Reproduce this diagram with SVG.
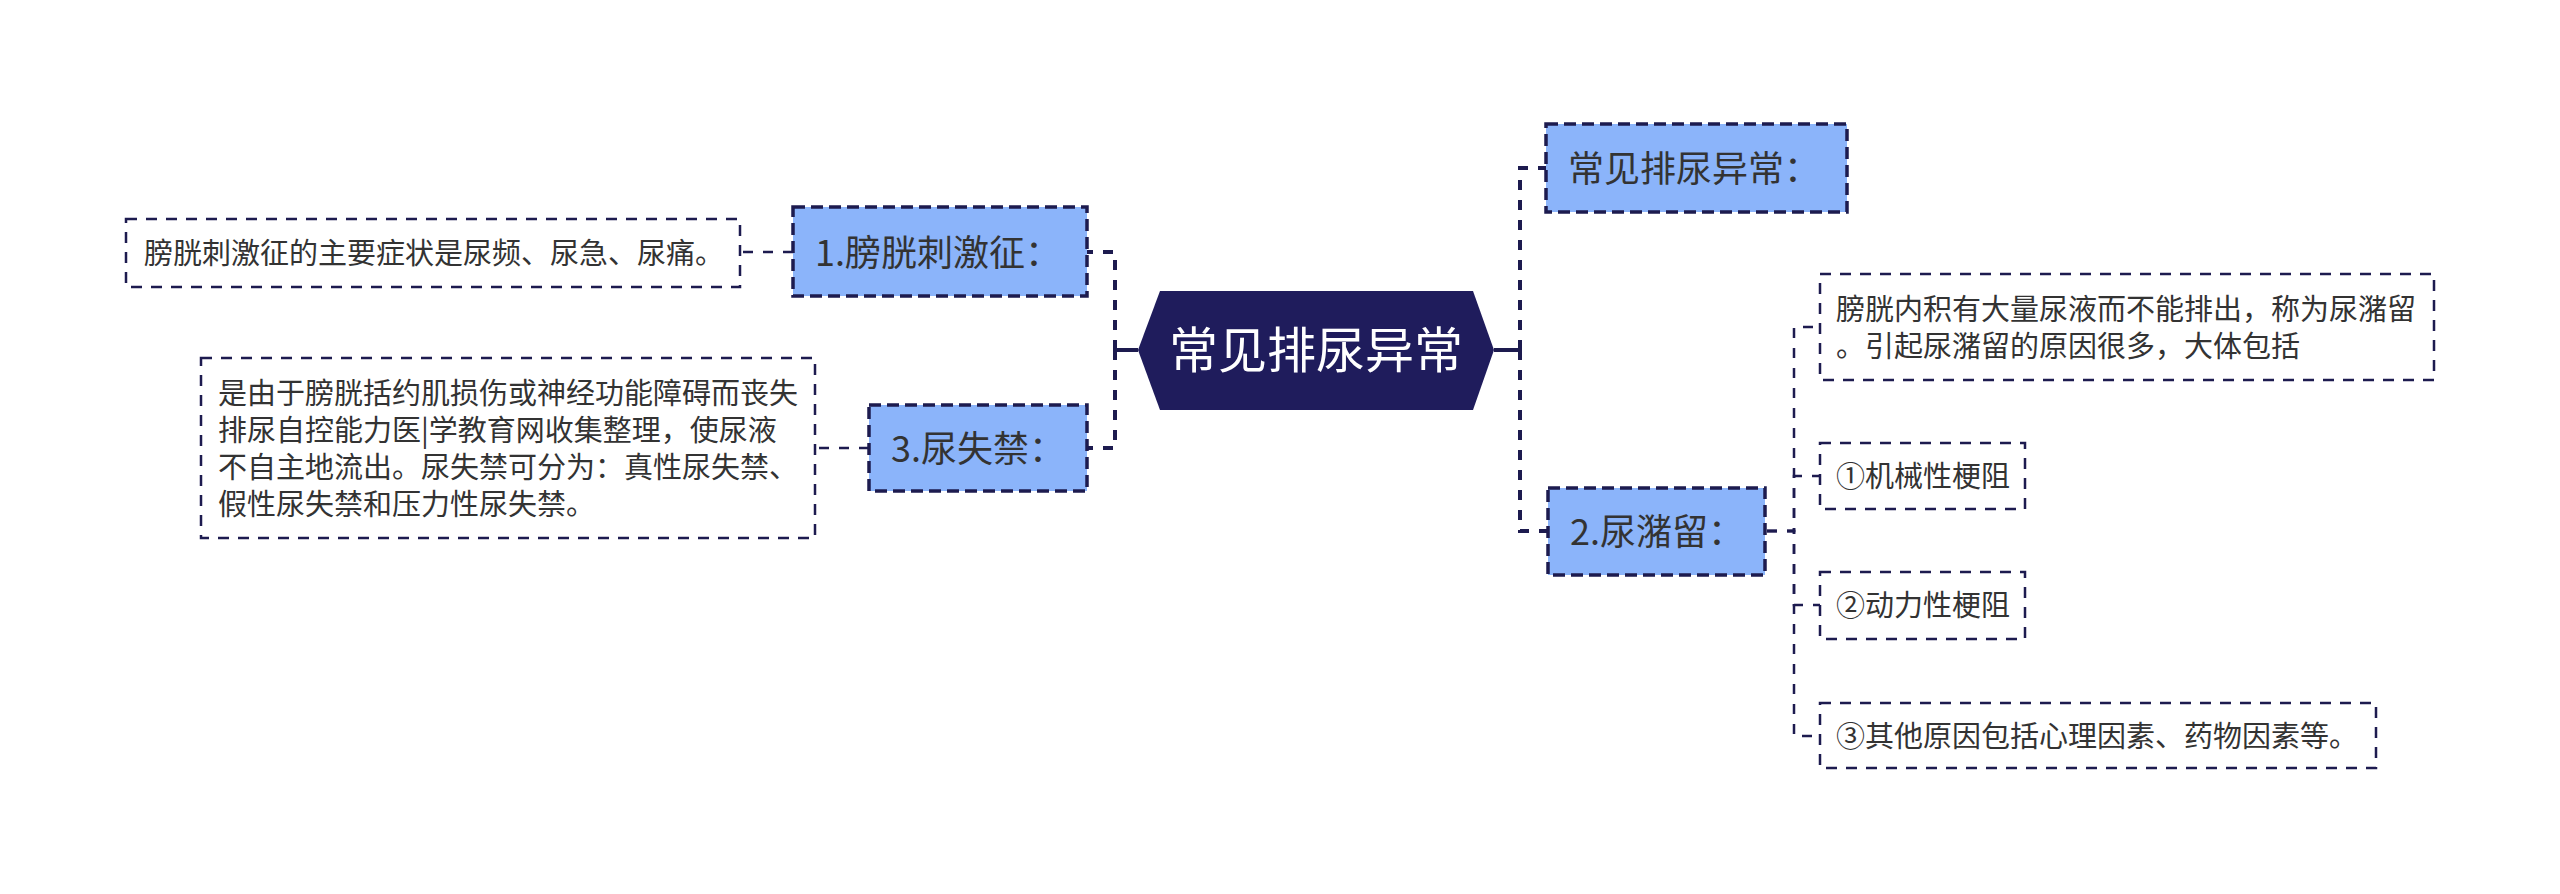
<svg xmlns="http://www.w3.org/2000/svg" width="2560" height="894" viewBox="0 0 2560 894">
<style>
  text { font-family: "Noto Sans CJK SC", "Noto Sans", "Liberation Sans", sans-serif; fill: #333333; }
  .l1 { fill: #8bb4fa; stroke: #1d1b4f; stroke-width: 3.5; stroke-dasharray: 12 6; }
  .leaf { fill: #ffffff; stroke: #1d1b4f; stroke-width: 2.5; stroke-dasharray: 11 9; }
  .t1 { font-size: 36px; }
  .t2 { font-size: 29px; }
  .conn { fill: none; stroke: #1d1b4f; stroke-width: 4; stroke-dasharray: 10 10; }
  .conn2 { fill: none; stroke: #1d1b4f; stroke-width: 2.5; stroke-dasharray: 10 10; }
  .stub { fill: none; stroke: #1d1b4f; stroke-width: 4; }
</style>
<rect width="2560" height="894" fill="#ffffff"/>
<g id="connectors">
  <path class="stub" d="M1494 350 H1520 M1138 350 H1115"/>
  <path class="conn" d="M1520 350 V168 H1546"/>
  <path class="conn" d="M1520 350 V531 H1548"/>
  <path class="conn" d="M1115 350 V252 H1087"/>
  <path class="conn" d="M1115 350 V448 H1087"/>
  <path class="conn2" d="M793 252 H740"/>
  <path class="conn2" d="M869 448 H815"/>
  <path class="conn2" d="M1767 531 H1794 V327 H1820"/>
  <path class="conn2" d="M1767 531 H1794 V476 H1820"/>
  <path class="conn2" d="M1767 531 H1794 V605 H1820"/>
  <path class="conn2" d="M1767 531 H1794 V736 H1820"/>
</g>
<g id="root">
  <polygon points="1138,350 1160,291 1473,291 1494,350 1473,410 1160,410" fill="#1f1c5c"/>
  <text x="1316" y="368" text-anchor="middle" style="font-size:49px;fill:#ffffff">常见排尿异常</text>
</g>
<g id="n-right1">
  <rect class="l1" x="1546" y="124" width="301" height="88"/>
  <text class="t1" x="1568" y="182">常见排尿异常：</text>
</g>
<g id="n-right2">
  <rect class="l1" x="1548" y="488" width="217" height="87"/>
  <text class="t1" x="1570" y="545">2.尿潴留：</text>
</g>
<g id="n-right2-c1">
  <rect class="leaf" x="1820" y="274" width="614" height="106"/>
  <text class="t2" x="1836" y="320">膀胱内积有大量尿液而不能排出，称为尿潴留</text>
  <text class="t2" x="1836" y="357">。引起尿潴留的原因很多，大体包括</text>
</g>
<g id="n-right2-c2">
  <rect class="leaf" x="1820" y="443" width="205" height="66"/>
  <text class="t2" x="1836" y="487">①机械性梗阻</text>
</g>
<g id="n-right2-c3">
  <rect class="leaf" x="1820" y="572" width="205" height="67"/>
  <text class="t2" x="1836" y="616">②动力性梗阻</text>
</g>
<g id="n-right2-c4">
  <rect class="leaf" x="1820" y="703" width="556" height="65"/>
  <text class="t2" x="1836" y="747">③其他原因包括心理因素、药物因素等。</text>
</g>
<g id="n-left1">
  <rect class="l1" x="793" y="207" width="294" height="89"/>
  <text class="t1" x="815" y="266">1.膀胱刺激征：</text>
</g>
<g id="n-left1-c1">
  <rect class="leaf" x="126" y="219" width="614" height="68"/>
  <text class="t2" x="144" y="264">膀胱刺激征的主要症状是尿频、尿急、尿痛。</text>
</g>
<g id="n-left3">
  <rect class="l1" x="869" y="405" width="218" height="86"/>
  <text class="t1" x="891" y="462">3.尿失禁：</text>
</g>
<g id="n-left3-c1">
  <rect class="leaf" x="201" y="358" width="614" height="180"/>
  <text class="t2" x="218" y="404">是由于膀胱括约肌损伤或神经功能障碍而丧失</text>
  <text class="t2" x="218" y="441">排尿自控能力医|学教育网收集整理，使尿液</text>
  <text class="t2" x="218" y="478">不自主地流出。尿失禁可分为：真性尿失禁、</text>
  <text class="t2" x="218" y="515">假性尿失禁和压力性尿失禁。</text>
</g>
</svg>
